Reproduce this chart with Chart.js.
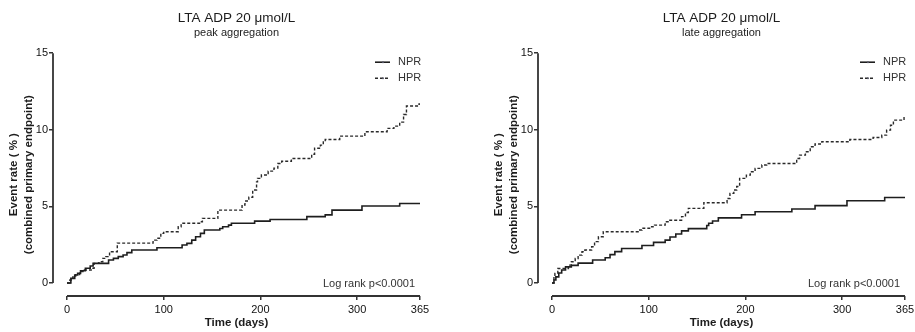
<!DOCTYPE html>
<html>
<head>
<meta charset="utf-8">
<title>LTA ADP 20 μmol/L</title>
<script src="https://cdn.jsdelivr.net/npm/chart.js@4.4.1/dist/chart.umd.min.js"></script>
<style>
  body { margin: 0; background: #fff; }
  .panel { position: absolute; top: 0; width: 430px; height: 332px; }
</style>
</head>
<body>
<div class="panel" style="left:0"><canvas id="peak" width="430" height="332"></canvas></div>
<div class="panel" style="left:485px"><canvas id="late" width="430" height="332"></canvas></div>
<script>
const titleText = 'LTA ADP 20 μmol/L';
const subtitles = ['peak aggregation', 'late aggregation'];
const seriesNames = ['NPR', 'HPR'];
const noteText = 'Log rank p<0.0001';
const xTitle = 'Time (days)';
const yTitle = ['Event rate ( % )', '(combined primary endpoint)'];
const xTicks = [0, 100, 200, 300, 365];
const yTicks = [0, 5, 10, 15];

// peak aggregation, cumulative event rate (%) at each event day
const peakNprDays = [0, 4, 8, 11, 14, 19, 24, 27, 43, 48, 53, 58, 62, 67, 93, 119, 124, 129, 133, 138, 142, 158, 161, 167, 170, 194, 210, 248, 267, 274, 305, 344, 365];
const peakNprRate = [0, 0.3, 0.52, 0.63, 0.8, 0.96, 1.11, 1.28, 1.5, 1.61, 1.72, 1.83, 1.98, 2.15, 2.3, 2.48, 2.59, 2.8, 3.02, 3.24, 3.46, 3.56, 3.67, 3.78, 3.9, 4.04, 4.15, 4.33, 4.45, 4.76, 5.03, 5.19, 5.19];
const peakHprDays = [0, 3, 6, 9, 13, 18, 25, 28, 33, 37, 40, 44, 52, 89, 93, 97, 100, 115, 118, 138, 140, 156, 181, 184, 188, 192, 196, 197, 201, 208, 214, 218, 222, 232, 253, 256, 262, 265, 267, 282, 308, 331, 338, 344, 348, 351, 364, 365];
const peakHprRate = [0, 0.2, 0.4, 0.55, 0.74, 0.85, 0.96, 1.28, 1.39, 1.61, 1.72, 2.04, 2.6, 2.8, 2.92, 3.24, 3.35, 3.67, 3.9, 4.0, 4.22, 4.76, 5.09, 5.35, 5.6, 6.07, 6.6, 6.83, 7.05, 7.3, 7.5, 7.8, 7.95, 8.13, 8.4, 8.8, 9.0, 9.25, 9.37, 9.59, 9.87, 10.09, 10.24, 10.5, 11.0, 11.55, 11.68, 11.68];

// late aggregation
const lateNprDays = [0, 2, 4, 7, 10, 14, 20, 27, 42, 55, 60, 65, 72, 93, 105, 117, 122, 128, 134, 141, 160, 162, 166, 172, 196, 210, 248, 272, 305, 344, 365];
const lateNprRate = [0, 0.2, 0.4, 0.65, 0.85, 1.05, 1.15, 1.3, 1.5, 1.65, 1.85, 2.05, 2.25, 2.45, 2.65, 2.8, 3.0, 3.2, 3.4, 3.55, 3.75, 3.9, 4.05, 4.25, 4.46, 4.65, 4.83, 5.05, 5.37, 5.58, 5.58];
const lateHprDays = [0, 2, 3, 6, 17, 20, 24, 27, 31, 34, 41, 44, 48, 53, 89, 93, 103, 106, 117, 120, 134, 138, 141, 157, 181, 184, 188, 191, 194, 201, 205, 210, 217, 222, 253, 256, 262, 267, 272, 279, 308, 332, 341, 346, 350, 353, 364, 365];
const lateHprRate = [0, 0.35, 0.63, 0.95, 1.17, 1.39, 1.6, 1.82, 2.04, 2.15, 2.37, 2.7, 3.02, 3.35, 3.46, 3.57, 3.67, 3.78, 4.0, 4.1, 4.33, 4.6, 4.87, 5.24, 5.52, 5.85, 6.07, 6.3, 6.83, 7.04, 7.26, 7.48, 7.7, 7.8, 8.13, 8.35, 8.57, 8.89, 9.07, 9.22, 9.37, 9.5, 9.65, 9.98, 10.3, 10.63, 10.85, 10.85];

const FONT = '"Liberation Sans", Arial, sans-serif';
const INK = '#1c1c1c';
Chart.defaults.font.family = FONT;
Chart.defaults.color = INK;

function toPoints(days, rate) {
  return days.map((d, i) => ({x: d, y: rate[i]}));
}

// Prism-style offset axes, legend at top right and the log rank note
const kmDecor = {
  id: 'kmDecor',
  afterDraw(chart, args, opts) {
    const {ctx, chartArea, scales: {x, y}} = chart;
    ctx.save();
    ctx.strokeStyle = '#333';
    ctx.lineWidth = 1.8;
    ctx.beginPath();
    ctx.moveTo(chartArea.left, y.getPixelForValue(yTicks[0]));
    ctx.lineTo(chartArea.left, y.getPixelForValue(yTicks[yTicks.length - 1]));
    ctx.moveTo(x.getPixelForValue(xTicks[0]), chartArea.bottom);
    ctx.lineTo(x.getPixelForValue(xTicks[xTicks.length - 1]), chartArea.bottom);
    ctx.stroke();

    ctx.font = '11px ' + FONT;
    ctx.textBaseline = 'middle';
    chart.data.datasets.forEach((ds, i) => {
      const ly = chartArea.top + 9 + i * 16;
      const lx = chartArea.right - 45;
      ctx.setLineDash(ds.borderDash || []);
      ctx.lineWidth = ds.borderWidth;
      ctx.strokeStyle = ds.borderColor;
      ctx.beginPath();
      ctx.moveTo(lx, ly);
      ctx.lineTo(lx + 15, ly);
      ctx.stroke();
      ctx.setLineDash([]);
      ctx.fillStyle = '#556';
      ctx.beginPath();
      ctx.arc(lx + 8, ly, 1, 0, Math.PI * 2);
      ctx.fill();
      ctx.fillStyle = '#333';
      ctx.textAlign = 'left';
      ctx.fillText(ds.label, lx + 23, ly);
    });

    ctx.textAlign = 'right';
    ctx.fillStyle = '#333';
    ctx.fillText(opts.note, chartArea.right - 5, chartArea.bottom - 12);
    ctx.restore();
  }
};

function makePanel(id, subtitle, nprDays, nprRate, hprDays, hprRate) {
  return new Chart(document.getElementById(id), {
    type: 'line',
    data: {
      datasets: [
        {label: seriesNames[0], data: toPoints(nprDays, nprRate), borderColor: '#1e1e1e', borderWidth: 1.6, stepped: true, pointRadius: 0},
        {label: seriesNames[1], data: toPoints(hprDays, hprRate), borderColor: '#2a2a2a', borderWidth: 1.4, borderDash: [3, 2], stepped: true, pointRadius: 0}
      ]
    },
    options: {
      responsive: false,
      animation: false,
      layout: {padding: {left: 0, right: 10, top: 0, bottom: 0}},
      plugins: {
        legend: {display: false},
        tooltip: {enabled: false},
        title: {display: true, text: titleText, fullSize: false, color: INK, font: {size: 13.5, weight: 'normal'}, padding: {top: 10, bottom: 0}},
        subtitle: {display: true, text: subtitle, fullSize: false, color: INK, font: {size: 11}, padding: {top: 0, bottom: 13.8}},
        kmDecor: {note: noteText}
      },
      scales: {
        x: {
          type: 'linear', min: -14.48, max: 365,
          afterBuildTicks: s => { s.ticks = xTicks.map(v => ({value: v})); },
          afterFit: s => { s.height = 36; s.paddingLeft = 0; s.paddingRight = 0; },
          grid: {drawOnChartArea: false, drawTicks: true, tickLength: 4, color: '#333', lineWidth: 1.5},
          border: {display: false},
          ticks: {font: {size: 11}, color: '#111', padding: 3, maxRotation: 0, autoSkip: false},
          title: {display: true, text: xTitle, color: INK, font: {size: 11.5, weight: 'bold', lineHeight: 1.2}, padding: {top: 0, bottom: 2.1}}
        },
        y: {
          type: 'linear', min: -0.848, max: 15,
          afterBuildTicks: s => { s.ticks = yTicks.map(v => ({value: v})); },
          afterFit: s => { s.width = 53; },
          grid: {drawOnChartArea: false, drawTicks: true, tickLength: 4, color: '#333', lineWidth: 1.5},
          border: {display: false},
          ticks: {font: {size: 11}, color: '#111', padding: 1},
          title: {display: true, text: yTitle, color: INK, font: {size: 11.5, weight: 'bold', lineHeight: 1.3}, padding: {top: 6.5, bottom: 0}}
        }
      }
    },
    plugins: [kmDecor]
  });
}

makePanel('peak', subtitles[0], peakNprDays, peakNprRate, peakHprDays, peakHprRate);
makePanel('late', subtitles[1], lateNprDays, lateNprRate, lateHprDays, lateHprRate);
</script>
</body>
</html>
